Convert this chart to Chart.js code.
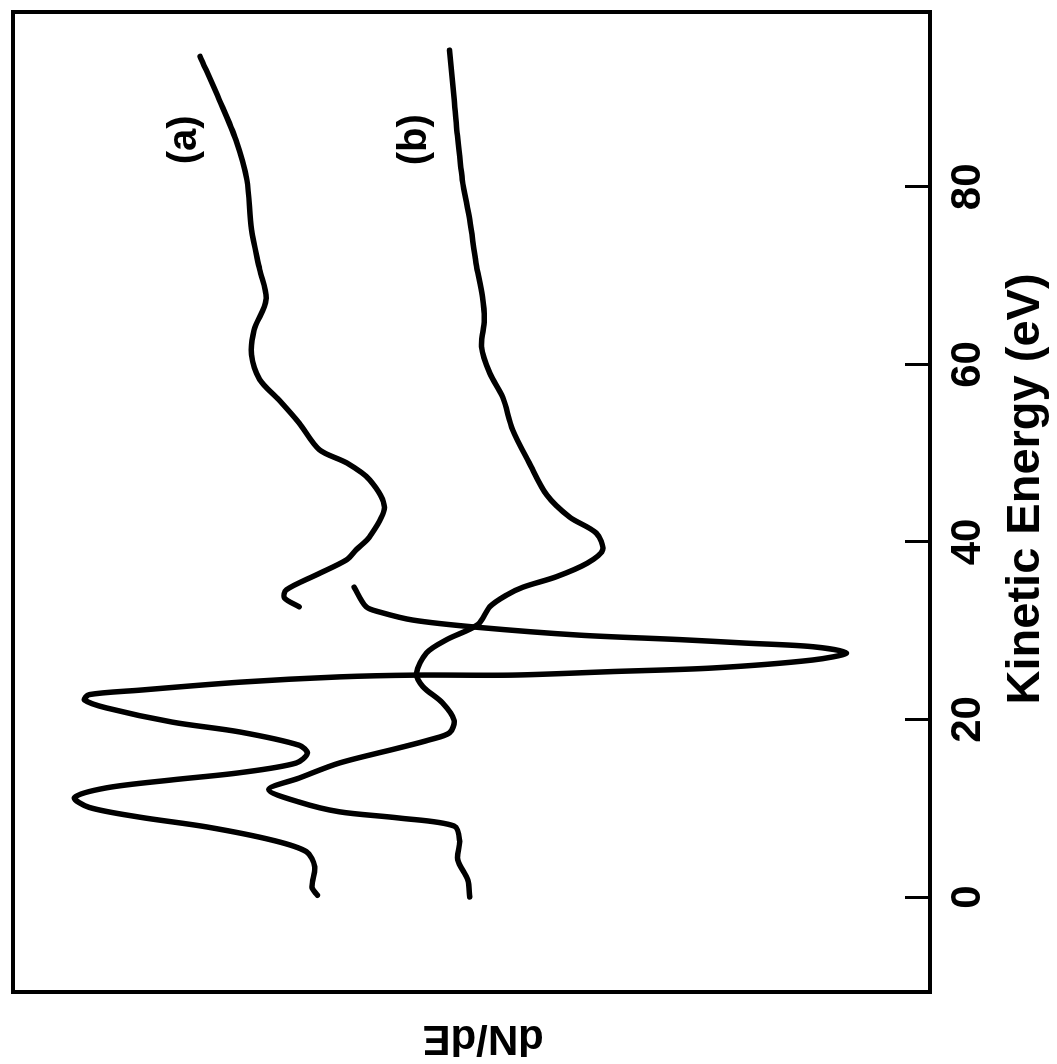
<!DOCTYPE html>
<html>
<head>
<meta charset="utf-8">
<script src="https://cdn.jsdelivr.net/npm/chart.js@4/dist/chart.umd.min.js"></script>
<style>
  html, body { margin: 0; padding: 0; background: #fff; overflow: hidden; }
  /* chart is drawn upright, then turned a quarter turn like the scanned figure */
  #wrap {
    position: absolute; left: 0; top: 0;
    width: 1064px; height: 1057px;
    transform-origin: 0 0;
    transform: translate(0, 1064px) rotate(-90deg);
  }
</style>
</head>
<body>
<div id="wrap"><canvas id="chart" width="1064" height="1057"></canvas></div>
<script>
const energyTicks = [0, 20, 40, 60, 80];

// curve (a), low energy part
const aLowKE = [0.2, 1.1, 3.4, 5.1, 6.4, 7.9, 9.0, 10.1, 11.2, 12.3, 13.2, 14.0, 15.1, 16.2, 17.1, 18.6, 19.7, 21.3, 22.2, 22.8, 23.3, 24.2, 24.8, 25.0, 25.0, 25.4, 25.8, 26.7, 27.5, 28.2, 28.6, 29.0, 29.5, 30.4, 31.2, 32.1, 32.7, 34.9];
const aLowVal = [66.8, 67.4, 67.1, 68.0, 71.7, 78.9, 86.2, 91.7, 93.3, 89.8, 82.6, 75.3, 69.1, 67.9, 68.8, 75.3, 82.6, 89.8, 92.2, 91.7, 86.2, 75.3, 64.4, 56.0, 45.5, 34.6, 23.7, 12.8, 9.1, 12.8, 20.0, 27.3, 38.2, 49.5, 56.4, 60.0, 61.5, 62.8];

// curve (a), high energy part
const aHighKE = [32.7, 33.7, 34.6, 36.3, 38.0, 39.1, 40.6, 43.9, 47.0, 48.9, 50.4, 53.4, 56.0, 58.3, 61.1, 63.9, 67.3, 70.7, 75.2, 80.8, 85.3, 89.8, 94.7];
const aHighVal = [68.8, 70.4, 70.2, 66.9, 63.6, 62.6, 61.1, 59.5, 61.1, 63.6, 66.6, 68.8, 71.0, 73.1, 74.0, 73.7, 72.4, 73.1, 74.0, 74.5, 75.7, 77.5, 79.6];

// curve (b)
const bKE = [0, 1.9, 4.2, 6.4, 8.0, 8.9, 9.6, 10.7, 12.1, 13.4, 15.1, 16.8, 17.7, 18.5, 19.9, 21.9, 23.7, 25.2, 27.5, 29.0, 30.7, 32.7, 34.0, 34.9, 36.1, 37.6, 39.1, 41.0, 42.8, 45.3, 48.9, 52.6, 56.3, 59.0, 62.0, 65.0, 67.6, 71.4, 76.3, 80.8, 86.4, 90.1, 95.4];
const bVal = [50.2, 50.4, 51.5, 51.3, 51.9, 57.9, 64.4, 68.8, 72.1, 68.8, 64.4, 57.9, 54.6, 52.4, 51.9, 53.2, 55.3, 56.0, 54.9, 52.7, 49.3, 48.0, 46.2, 44.4, 40.7, 37.4, 35.7, 36.4, 39.3, 41.8, 43.7, 45.5, 46.6, 48.0, 48.9, 48.6, 48.8, 49.5, 50.2, 51.0, 51.6, 51.9, 52.4];

const curveNames = ['(a)', '(b)'];
const nameKE = [85.3, 85.3];
const nameVal = [81.3, 56.2];

function toPoints(xs, ys) {
    return xs.map((x, i) => ({ x: x, y: ys[i] }));
}

function curve(label, xs, ys) {
    return {
        label: label,
        data: toPoints(xs, ys),
        borderColor: '#000',
        borderWidth: 5.5,
        borderJoinStyle: 'round',
        borderCapStyle: 'round',
        pointRadius: 0,
        tension: 0.3,
        fill: false
    };
}

const framePlugin = {
    id: 'frame',
    afterDraw(chart) {
        const a = chart.chartArea;
        const ctx = chart.ctx;
        ctx.save();
        ctx.strokeStyle = '#000';
        ctx.lineWidth = 4;
        ctx.strokeRect(a.left, a.top, a.right - a.left, a.bottom - a.top);
        ctx.restore();
    }
};

const namesPlugin = {
    id: 'curveNames',
    afterDatasetsDraw(chart) {
        const ctx = chart.ctx;
        const xs = chart.scales.x, ys = chart.scales.y;
        ctx.save();
        ctx.fillStyle = '#000';
        ctx.font = 'bold 40px "Liberation Sans", Arial, sans-serif';
        ctx.textAlign = 'center';
        ctx.textBaseline = 'middle';
        curveNames.forEach((name, i) => {
            ctx.fillText(name, xs.getPixelForValue(nameKE[i]), ys.getPixelForValue(nameVal[i]));
        });
        ctx.restore();
    }
};

new Chart(document.getElementById('chart'), {
    type: 'line',
    data: {
        datasets: [
            curve('(a)', aLowKE, aLowVal),
            curve('(a) high', aHighKE, aHighVal),
            curve('(b)', bKE, bVal)
        ]
    },
    options: {
        responsive: false,
        animation: false,
        devicePixelRatio: 1,
        layout: { padding: { top: 13, right: 12, bottom: 0, left: 0 } },
        plugins: { legend: { display: false }, tooltip: { enabled: false } },
        scales: {
            x: {
                type: 'linear',
                min: -10.7,
                max: 99.7,
                afterBuildTicks: s => { s.ticks = energyTicks.map(v => ({ value: v })); },
                afterFit: s => { s.height = 127; },
                border: { display: false },
                grid: { drawOnChartArea: false, tickLength: -25, color: '#000', lineWidth: 3 },
                ticks: {
                    color: '#000',
                    padding: 38,
                    maxRotation: 0,
                    font: { family: '"Liberation Sans", Arial, sans-serif', size: 42, weight: 'bold' }
                },
                title: {
                    display: true,
                    text: '  Kinetic Energy (eV)',
                    color: '#000',
                    padding: { top: 0, bottom: 3 },
                    font: { family: '"Liberation Sans", Arial, sans-serif', size: 47, weight: 'bold' }
                }
            },
            y: {
                min: 0,
                max: 100,
                afterFit: s => { s.width = 72; },
                border: { display: false },
                grid: { display: false },
                ticks: { display: false },
                title: {
                    display: true,
                    text: 'dN/dE  ',
                    color: '#000',
                    padding: { top: 1, bottom: 0 },
                    font: { family: '"Liberation Sans", Arial, sans-serif', size: 42, weight: 'bold' }
                }
            }
        }
    },
    plugins: [framePlugin, namesPlugin]
});
</script>
</body>
</html>
